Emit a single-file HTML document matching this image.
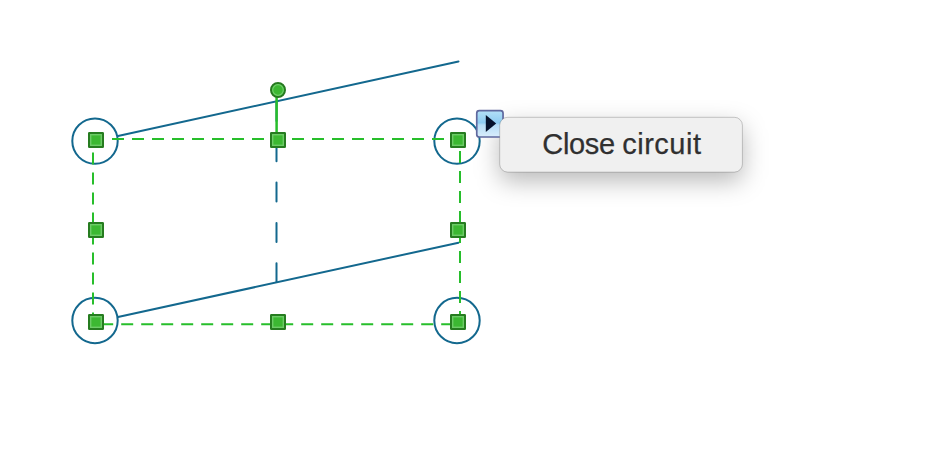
<!DOCTYPE html>
<html>
<head>
<meta charset="utf-8">
<title>Close circuit</title>
<style>
html,body{margin:0;padding:0;background:#fff;}
body{width:926px;height:468px;position:relative;overflow:hidden;font-family:"Liberation Sans",sans-serif;}
svg{position:absolute;left:0;top:0;}
</style>
</head>
<body>
<svg width="926" height="468" viewBox="0 0 926 468">
  <defs>
    <g id="h">
      <rect x="-7" y="-7" width="14" height="14" rx="0.3" fill="#3cb832" stroke="#267c20" stroke-width="2"/>
      <rect x="-5.3" y="-5.3" width="10.6" height="10.6" fill="none" stroke="#6dcc67" stroke-width="1.4"/>
    </g>
  </defs>
  <!-- blue shape lines -->
  <g stroke="#13688e" stroke-width="2" fill="none" stroke-linecap="round">
    <line x1="118" y1="136" x2="458.5" y2="61.5"/>
    <line x1="118" y1="317" x2="458.5" y2="242.7"/>
    <line x1="276.5" y1="102" x2="276.5" y2="282" stroke-dasharray="19 21.3"/>
    <circle cx="95" cy="141.1" r="22.7" fill="#fff"/>
    <circle cx="457" cy="141.1" r="22.7" fill="#fff"/>
    <circle cx="95" cy="320.5" r="22.7" fill="#fff"/>
    <circle cx="457" cy="320.5" r="22.7" fill="#fff"/>
  </g>
  <!-- selection -->
  <path d="M93 139 H460 V324.2 H93 Z" fill="none" stroke="#27be2b" stroke-width="2" stroke-dasharray="12 8" stroke-dashoffset="1"/>
  <line x1="276.6" y1="90" x2="276.6" y2="139" stroke="#27be2b" stroke-width="2.5"/>
  <circle cx="278" cy="90" r="7" fill="#3cb832" stroke="#26791f" stroke-width="2"/>
  <circle cx="278" cy="90" r="5.3" fill="none" stroke="#6fce69" stroke-width="1.2"/>
  <use href="#h" x="96" y="140"/>
  <use href="#h" x="278" y="140"/>
  <use href="#h" x="458" y="140"/>
  <use href="#h" x="96" y="230"/>
  <use href="#h" x="458" y="230"/>
  <use href="#h" x="96" y="322"/>
  <use href="#h" x="278" y="322"/>
  <use href="#h" x="458" y="322"/>
</svg>
<svg width="926" height="468" viewBox="0 0 926 468">
  <defs>
    <linearGradient id="bg" x1="0" y1="0" x2="0" y2="1">
      <stop offset="0" stop-color="#b4e1f8"/><stop offset="0.46" stop-color="#8dcbf1"/><stop offset="0.54" stop-color="#b6ddf7"/><stop offset="1" stop-color="#d9edfb"/>
    </linearGradient>
    <filter id="sh" x="-30%" y="-100%" width="160%" height="320%"><feGaussianBlur stdDeviation="12"/></filter>
  </defs>
  <rect x="499.7" y="126.3" width="242.7" height="54.8" rx="8" fill="#000" fill-opacity="0.28" filter="url(#sh)"/>
  <rect x="476.75" y="110.7" width="26.3" height="26.3" rx="2.6" fill="url(#bg)" stroke="#5f689e" stroke-width="1.7"/>
  <path d="M485.8 114.9 L496.2 123.5 L485.8 132.1 Z" fill="#06122c"/>
  <rect x="499.7" y="117.3" width="242.7" height="54.8" rx="8" fill="#f0f0f0" stroke="#000" stroke-opacity="0.28" stroke-width="0.7"/>
  <text x="542.3" y="154.3" font-family="Liberation Sans, sans-serif" font-size="29" fill="#303030" stroke="#303030" stroke-width="0.25" xml:space="preserve"><tspan letter-spacing="-0.33">Close </tspan><tspan dx="-0.3" letter-spacing="0.5">circuit</tspan></text>
</svg>
</body>
</html>
